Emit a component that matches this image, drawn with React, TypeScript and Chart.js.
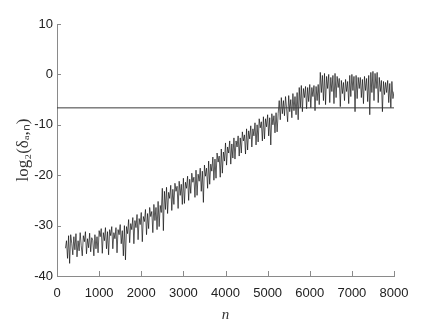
import React, { useEffect, useRef } from "react";
import { Chart, registerables } from "chart.js";

Chart.register(...registerables);

// sampled every N_STEP starting at N_START
const N_START = 200;
const N_STEP = 25;
const logDelta: number[] = [
  -34.5, -33, -36.5, -32, -37.5, -31.8, -33.5, -35.8,
  -32.2, -34.8, -31.6, -36.2, -33, -35, -31.4, -34,
  -36, -32, -33.2, -31.2, -35.6, -32.6, -34.4, -31.5,
  -35.2, -32.4, -33, -36, -31.8, -34.6, -32.2, -35.4,
  -31, -32.2, -30.6, -35.5, -31.4, -33, -30.4, -34.6,
  -31.2, -35.8, -30.8, -32, -30.2, -34.6, -31.4, -32.6,
  -30.4, -35.4, -30.8, -31.8, -29.8, -33.6, -31, -36,
  -30, -36.8, -30.2, -31.6, -28.8, -33.4, -29.6, -30.8,
  -28.4, -33.6, -29, -30.4, -27.8, -32.8, -28.6, -29.8,
  -27.4, -33.2, -28.2, -29.2, -26.8, -31.8, -27.6, -30.6,
  -26.4, -28.2, -27.2, -31.4, -25.8, -29, -26.4, -30.8,
  -25.2, -30.2, -26, -27.4, -22.6, -31, -23.2, -26.8,
  -22.4, -27.6, -23.4, -24.6, -22, -27, -22.8, -25.8,
  -21.6, -23.2, -22.2, -26.6, -21.2, -24, -21.8, -25.8,
  -20.6, -25.6, -21.4, -22.6, -20.2, -25, -20.8, -23.6,
  -19.6, -21.4, -20.4, -24.4, -19, -24, -19.8, -21.2,
  -18.6, -23.2, -19.2, -25.4, -18, -20.2, -18.6, -22.6,
  -17.2, -21.8, -17.8, -19.2, -16.4, -21, -16.8, -20.6,
  -15.6, -17.4, -16.2, -20.4, -14.8, -19.6, -15.4, -17.2,
  -13.6, -18, -14.4, -15.6, -13.2, -17.8, -13.8, -16.6,
  -12.6, -16.8, -13.2, -14.4, -12.2, -16.2, -12.6, -15.6,
  -11.4, -13.2, -12, -15.8, -10.8, -15, -11.2, -12.8,
  -10.2, -14.4, -10.8, -12.2, -9.6, -14, -10, -13.4,
  -8.8, -10.6, -9.4, -13.2, -8.4, -12.8, -8.8, -10.4,
  -8, -12.2, -8.6, -14, -7.8, -10, -8.2, -11.6,
  -7.6, -11.4, -7.8, -5.2, -9, -4.6, -7.8, -5.2,
  -8.2, -4.4, -6.8, -9.4, -4.2, -7.4, -5, -8.6,
  -3.8, -7.2, -4.4, -8, -3.6, -9, -2.6, -6.6,
  -2.2, -7.4, -2.8, -4.6, -2.4, -6.8, -2.6, -5.4,
  -2, -6.6, -2.6, -4.4, -2.2, -7.2, -2.4, -5.2,
  -2, -6, 0.4, -3.6, -0.2, -5.2, 0.2, -6,
  -0.4, -2.8, 0, -5.6, -0.6, -3.4, -0.2, -5.8,
  0.2, -4.6, -0.4, -2.6, -0.8, -6.4, -1.2, -3.8,
  -1.6, -5.2, -1, -3.4, -1.4, -5.8, -0.2, -4.4,
  0, -3.2, -0.4, -7.4, -0.2, -4.8, -0.6, -2.8,
  -0.6, -4.6, -1, -5.8, -0.4, -3.2, -0.8, -5.4,
  -0.2, -8, 0.4, -3.6, 0.6, -5.2, 0.2, -2.8,
  0.4, -5.6, -0.6, -3.4, -1.2, -7.4, -1.4, -4,
  -1.6, -3.6, -1.2, -5.6, -1.8, -6.6, -1.4, -4.8,
  -3.4,
];

const thresholdN: number[] = [0, 8000];
const thresholdValue = -6.64;

const xTicks: number[] = [0, 1000, 2000, 3000, 4000, 5000, 6000, 7000, 8000];
const yTicks: number[] = [-40, -30, -20, -10, 0, 10];

const TICK_FONT = "'Liberation Sans Narrow', 'Liberation Sans', sans-serif";

const innerTicks = {
  id: "innerTicks",
  afterDraw(chart: any) {
    const { ctx, scales } = chart;
    const xs = scales.x;
    const ys = scales.y;
    ctx.save();
    ctx.strokeStyle = "#8a8a8a";
    ctx.lineWidth = 1;
    ctx.beginPath();
    xTicks.forEach((v) => {
      const px = Math.round(xs.getPixelForValue(v)) + 0.5;
      ctx.moveTo(px, ys.bottom);
      ctx.lineTo(px, ys.bottom - 5);
    });
    yTicks.forEach((v) => {
      const py = Math.round(ys.getPixelForValue(v)) + 0.5;
      ctx.moveTo(xs.left, py);
      ctx.lineTo(xs.left + 4, py);
    });
    ctx.stroke();
    ctx.restore();
  },
};

export default function App() {
  const ref = useRef<HTMLCanvasElement | null>(null);

  useEffect(() => {
    document.body.style.margin = "0";
    const points = logDelta.map((y, i) => ({ x: N_START + i * N_STEP, y }));
    const thr = thresholdN.map((x) => ({ x, y: thresholdValue }));
    const chart = new Chart(ref.current as HTMLCanvasElement, {
      type: "line",
      data: {
        datasets: [
          {
            data: thr,
            borderColor: "#3a3a3a",
            borderWidth: 1,
            pointRadius: 0,
            tension: 0,
          },
          {
            data: points,
            borderColor: "rgba(0,0,0,0.85)",
            borderWidth: 0.75,
            pointRadius: 0,
            tension: 0,
          },
        ],
      },
      options: {
        animation: false,
        responsive: false,
        maintainAspectRatio: false,
        layout: { padding: { left: 0, right: 42, top: 24, bottom: 0 } },
        plugins: { legend: { display: false }, tooltip: { enabled: false } },
        scales: {
          x: {
            type: "linear",
            min: 0,
            max: 8000,
            afterBuildTicks: (s: any) => {
              s.ticks = xTicks.map((v) => ({ value: v }));
            },
            afterFit: (s: any) => {
              s.height = 51;
            },
            grid: { display: false, drawTicks: false },
            border: { display: true, color: "#8a8a8a", width: 1 },
            ticks: {
              color: "#222",
              padding: 10,
              maxRotation: 0,
              callback: (v: any) => String(v),
              font: { family: TICK_FONT, size: 13 },
            },
            title: {
              display: true,
              text: "n",
              color: "#333",
              padding: { top: 0, bottom: 3 },
              font: { family: "'Liberation Serif', serif", style: "italic", size: 15 },
            },
          },
          y: {
            type: "linear",
            min: -40,
            max: 10,
            afterBuildTicks: (s: any) => {
              s.ticks = yTicks.map((v) => ({ value: v }));
            },
            afterFit: (s: any) => {
              s.width = 57;
            },
            grid: { display: false, drawTicks: false },
            border: { display: true, color: "#8a8a8a", width: 1 },
            ticks: {
              color: "#222",
              padding: 4,
              autoSkip: false,
              callback: (v: any) => String(v),
              font: { family: TICK_FONT, size: 13 },
            },
            title: {
              display: true,
              text: "log₂(δₐ,ₙ)",
              color: "#333",
              padding: { top: 13, bottom: 0 },
              font: { family: "'Liberation Serif', serif", size: 17 },
            },
          },
        },
      },
      plugins: [innerTicks],
    });
    return () => chart.destroy();
  }, []);

  return (
    <div style={{ width: 436, height: 327 }}>
      <canvas ref={ref} width={436} height={327} style={{ display: "block" }} />
    </div>
  );
}
